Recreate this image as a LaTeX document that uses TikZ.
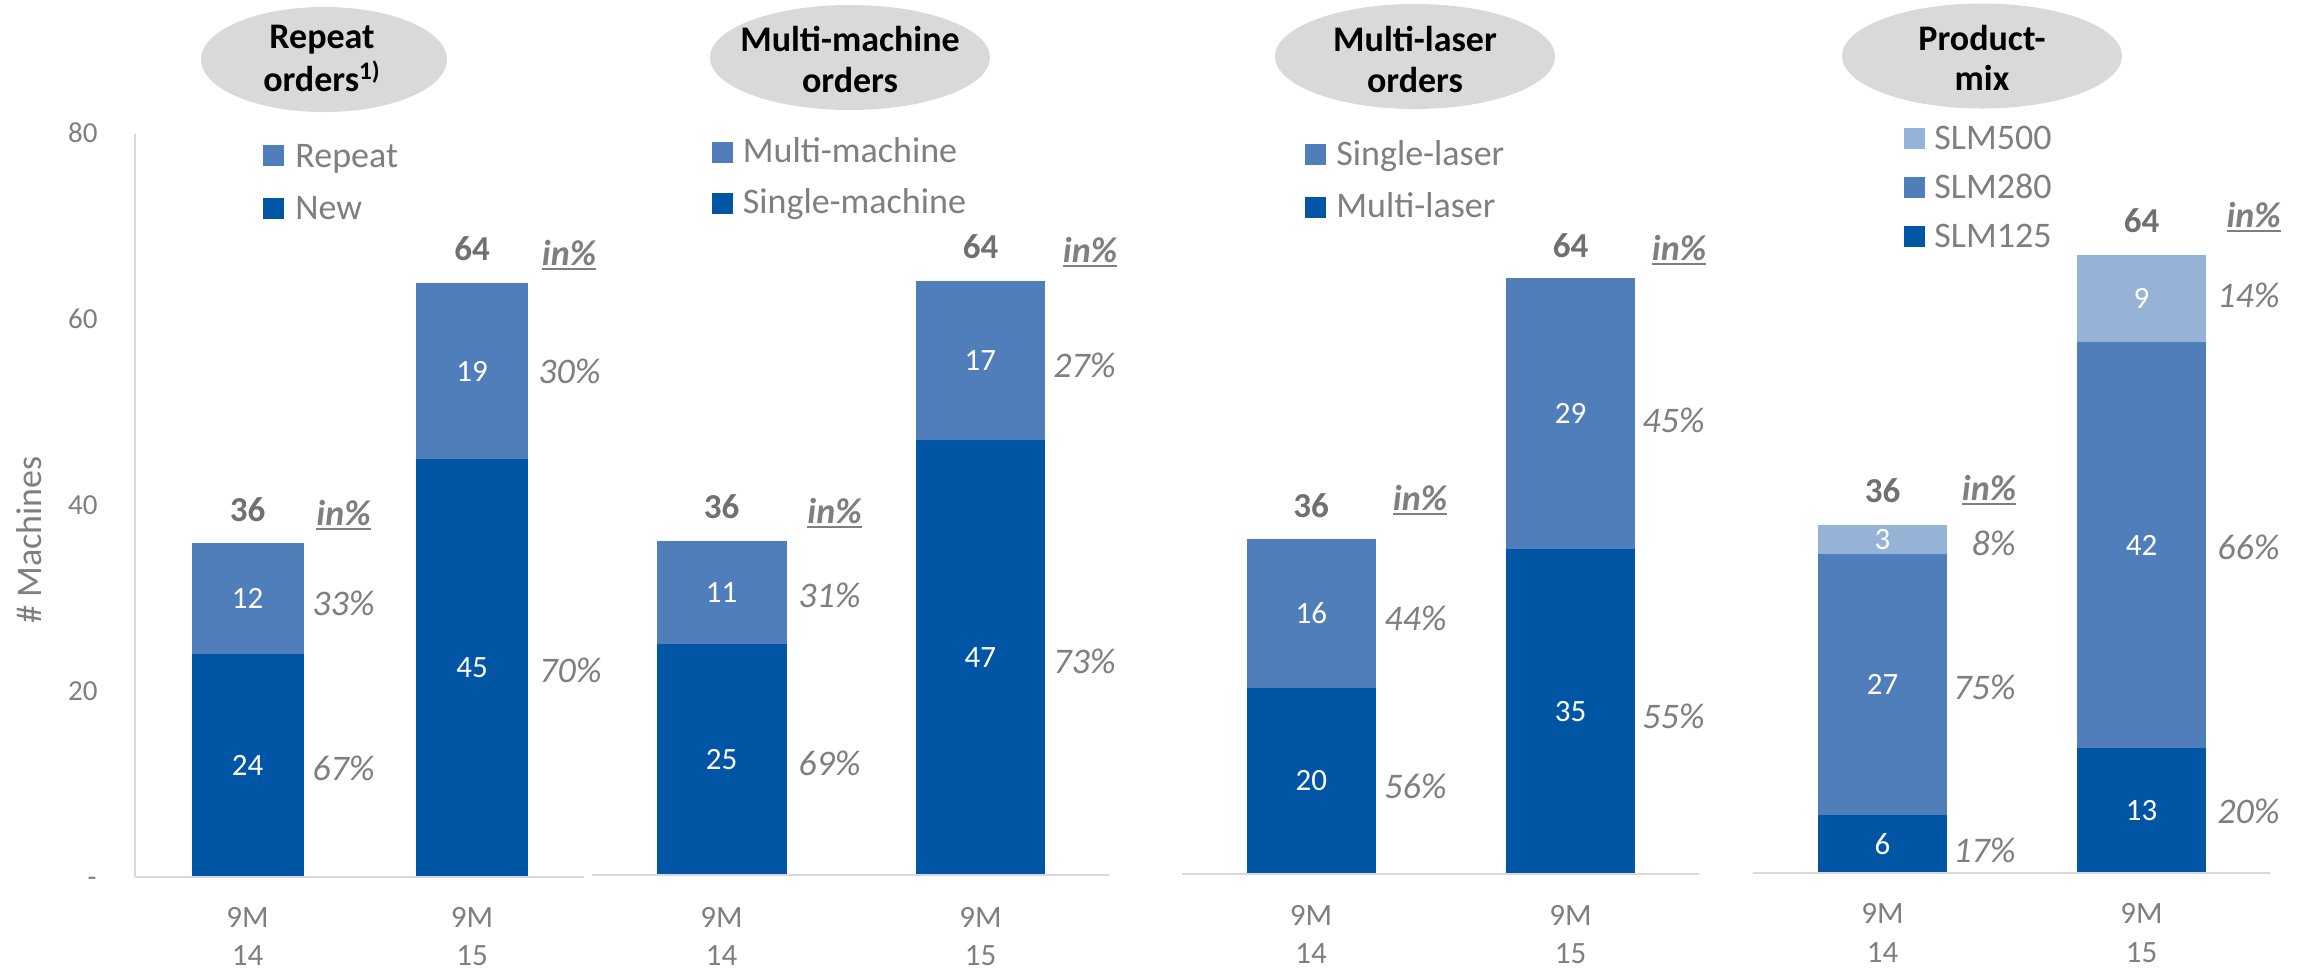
\documentclass[tikz,border=0pt]{standalone}
\usepackage{fontspec}
\setmainfont{Carlito}
\definecolor{dblue}{RGB}{0,85,164}
\definecolor{mblue}{RGB}{79,126,187}
\definecolor{lblue}{RGB}{149,179,215}
\definecolor{tgrey}{RGB}{127,127,127}
\definecolor{tgreyb}{RGB}{112,112,112}
\definecolor{egrey}{RGB}{217,217,217}
\definecolor{agrey}{RGB}{217,217,217}
\newcommand\ulin[1]{\setbox0\hbox{#1}\rlap{\rule[-2.4pt]{\wd0}{1pt}}\box0}
\newcommand\barpart[7]{%
  \fill[#6] (#2,#4) rectangle (#3,#5);
  \node[inbar] (#1) at ({(#2+#3)/2},{(#4+#5)/2}) {#7};}
\tikzset{
  inbar/.style={text=white, font=\fontsize{15.5}{18}\selectfont, inner sep=0pt},
  pct/.style={text=tgrey, font=\fontsize{18}{21}\selectfont\itshape, anchor=base east, inner sep=0pt},
  tot/.style={text=tgreyb, font=\fontsize{17.5}{21}\selectfont\bfseries, anchor=base, inner sep=0pt},
  inpct/.style={text=tgrey, font=\fontsize{18}{21}\selectfont\bfseries\itshape, anchor=base, inner sep=0pt},
  leg/.style={text=tgrey, font=\fontsize{18}{21}\selectfont, anchor=base west, inner sep=0pt},
  legsq/.style={minimum size=10.5pt, inner sep=0pt},
  xlab/.style={text=tgrey, font=\fontsize{15.5}{18}\selectfont, anchor=base, inner sep=0pt},
  ylab/.style={text=tgrey, font=\fontsize{14.5}{17}\selectfont, anchor=base east, inner sep=0pt},
  ttl/.style={font=\fontsize{18}{20.3}\selectfont\bfseries, inner sep=0pt},
  bub/.style={fill=egrey},
  axisl/.style={draw=agrey, line width=1pt},
  vaxis/.style={draw=agrey, line width=0.6pt}
}
\begin{document}
\begin{tikzpicture}[x=0.5pt,y=-0.5pt]
\useasboundingbox (0,0) rectangle (2310,971);
\fill[white] (0,0) rectangle (2310,971);

% ---------- Y axis (panel 1) ----------
\coordinate (yt) at (135,134);
\coordinate (yb) at (135,877);
\draw[vaxis] (yt) -- (yb);
\node[ylab] (y80) at (98,142) {80};
\node[ylab] (y60) at (98,328) {60};
\node[ylab] (y40) at (98,514) {40};
\node[ylab] (y20) at (98,700) {20};
\node[ylab] (y0) at (97,886) {-};
\node[text=tgrey, font=\fontsize{18}{21}\selectfont, rotate=90, inner sep=0pt] (ytitle) at (29,540) {\# Machines};

% ---------- Panel 1 ----------
\fill[bub] (324,59.5) ellipse [x radius=123, y radius=52.5];
\node[ttl] (t1) at (322,62) {\begin{tabular}{@{}c@{}}Repeat\\orders\textsuperscript{1)}\end{tabular}};
\node[legsq, fill=mblue] (k1a) at (273.5,155.5) {};
\node[leg] (l1a) at (295,167) {Repeat};
\node[legsq, fill=dblue] (k1b) at (273.5,208.5) {};
\node[leg] (l1b) at (295,219) {New};
\barpart{v1a}{191.5}{303.5}{543}{654}{mblue}{12}
\barpart{v1b}{191.5}{303.5}{654}{877}{dblue}{24}
\barpart{v1c}{416}{528}{283}{459}{mblue}{19}
\barpart{v1d}{416}{528}{459}{877}{dblue}{45}
\coordinate (b1l) at (135,877);
\coordinate (b1r) at (584,877);
\draw[axisl] (b1l) -- (b1r);
\node[tot] (s1a) at (247.5,521) {36};
\node[inpct] (i1a) at (343.5,525) {\ulin{in\%}};
\node[tot] (s1b) at (472,260) {64};
\node[inpct] (i1b) at (569,265) {\ulin{in\%}};
\node[pct] (p1a) at (375,615) {33\%};
\node[pct] (p1b) at (375,780) {67\%};
\node[pct] (p1c) at (601,383) {30\%};
\node[pct] (p1d) at (602,682) {70\%};
\node[xlab] (x1a) at (247.5,927) {9M};
\node[xlab] (x1b) at (247.5,965) {14};
\node[xlab] (x1c) at (472,927) {9M};
\node[xlab] (x1d) at (472,965) {15};

% ---------- Panel 2 ----------
\fill[bub] (850,57.5) ellipse [x radius=140, y radius=52.5];
\node[ttl] (t2) at (850,64) {\begin{tabular}{@{}c@{}}Multi-machine\\orders\end{tabular}};
\node[legsq, fill=mblue] (k2a) at (722.5,152) {};
\node[leg] (l2a) at (742.5,162) {Multi-machine};
\node[legsq, fill=dblue] (k2b) at (722.5,203) {};
\node[leg] (l2b) at (742.5,213) {Single-machine};
\barpart{v2a}{656.5}{786.5}{541}{644}{mblue}{11}
\barpart{v2b}{656.5}{786.5}{644}{875}{dblue}{25}
\barpart{v2c}{915.5}{1045}{281}{440}{mblue}{17}
\barpart{v2d}{915.5}{1045}{440}{875}{dblue}{47}
\coordinate (b2l) at (592,875);
\coordinate (b2r) at (1109,875);
\draw[axisl] (b2l) -- (b2r);
\node[tot] (s2a) at (721.5,518) {36};
\node[inpct] (i2a) at (834.5,523) {\ulin{in\%}};
\node[tot] (s2b) at (980.5,258) {64};
\node[inpct] (i2b) at (1090,262) {\ulin{in\%}};
\node[pct] (p2a) at (861,607) {31\%};
\node[pct] (p2b) at (861,775) {69\%};
\node[pct] (p2c) at (1116,377) {27\%};
\node[pct] (p2d) at (1116,673) {73\%};
\node[xlab] (x2a) at (721.5,927) {9M};
\node[xlab] (x2b) at (721.5,965) {14};
\node[xlab] (x2c) at (980.5,927) {9M};
\node[xlab] (x2d) at (980.5,965) {15};

% ---------- Panel 3 ----------
\fill[bub] (1415,56.5) ellipse [x radius=140, y radius=52.5];
\node[ttl] (t3) at (1415,64) {\begin{tabular}{@{}c@{}}Multi-laser\\orders\end{tabular}};
\node[legsq, fill=mblue] (k3a) at (1315.5,154.5) {};
\node[leg] (l3a) at (1336,165) {Single-laser};
\node[legsq, fill=dblue] (k3b) at (1315.5,207) {};
\node[leg] (l3b) at (1336,217) {Multi-laser};
\barpart{v3a}{1246.5}{1376}{539}{688}{mblue}{16}
\barpart{v3b}{1246.5}{1376}{688}{874}{dblue}{20}
\barpart{v3c}{1506}{1635}{278}{549}{mblue}{29}
\barpart{v3d}{1506}{1635}{549}{874}{dblue}{35}
\coordinate (b3l) at (1182,874);
\coordinate (b3r) at (1699,874);
\draw[axisl] (b3l) -- (b3r);
\node[tot] (s3a) at (1311,517) {36};
\node[inpct] (i3a) at (1420,510) {\ulin{in\%}};
\node[tot] (s3b) at (1570.5,257) {64};
\node[inpct] (i3b) at (1679,260) {\ulin{in\%}};
\node[pct] (p3a) at (1447,630) {44\%};
\node[pct] (p3b) at (1447,798) {56\%};
\node[pct] (p3c) at (1705,432) {45\%};
\node[pct] (p3d) at (1705,728) {55\%};
\node[xlab] (x3a) at (1311,925) {9M};
\node[xlab] (x3b) at (1311,963) {14};
\node[xlab] (x3c) at (1570.5,925) {9M};
\node[xlab] (x3d) at (1570.5,963) {15};

% ---------- Panel 4 ----------
\fill[bub] (1982,56) ellipse [x radius=140, y radius=52.5];
\node[ttl] (t4) at (1982,62.5) {\begin{tabular}{@{}c@{}}Product-\\mix\end{tabular}};
\node[legsq, fill=lblue] (k4a) at (1914.5,138.5) {};
\node[leg] (l4a) at (1934,149) {SLM500};
\node[legsq, fill=mblue] (k4b) at (1914.5,187.5) {};
\node[leg] (l4b) at (1934,198) {SLM280};
\node[legsq, fill=dblue] (k4c) at (1914.5,236.5) {};
\node[leg] (l4c) at (1934,247) {SLM125};
\barpart{v4a}{1818}{1947}{525}{554}{lblue}{3}
\barpart{v4b}{1818}{1947}{554}{815}{mblue}{27}
\barpart{v4c}{1818}{1947}{815}{873}{dblue}{6}
\barpart{v4d}{2077}{2206}{255}{342}{lblue}{9}
\barpart{v4e}{2077}{2206}{342}{748}{mblue}{42}
\barpart{v4f}{2077}{2206}{748}{873}{dblue}{13}
\coordinate (b4l) at (1753,873);
\coordinate (b4r) at (2270,873);
\draw[axisl] (b4l) -- (b4r);
\node[tot] (s4a) at (1882.5,502) {36};
\node[inpct] (i4a) at (1989,500) {\ulin{in\%}};
\node[tot] (s4b) at (2141.5,232) {64};
\node[inpct] (i4b) at (2253.5,227) {\ulin{in\%}};
\node[pct] (p4a) at (2016,555) {8\%};
\node[pct] (p4b) at (2016,699) {75\%};
\node[pct] (p4c) at (2016,862) {17\%};
\node[pct] (p4d) at (2280,307) {14\%};
\node[pct] (p4e) at (2280,559) {66\%};
\node[pct] (p4f) at (2280,823) {20\%};
\node[xlab] (x4a) at (1882.5,923) {9M};
\node[xlab] (x4b) at (1882.5,962) {14};
\node[xlab] (x4c) at (2141.5,923) {9M};
\node[xlab] (x4d) at (2141.5,962) {15};
\end{tikzpicture}
\end{document}
